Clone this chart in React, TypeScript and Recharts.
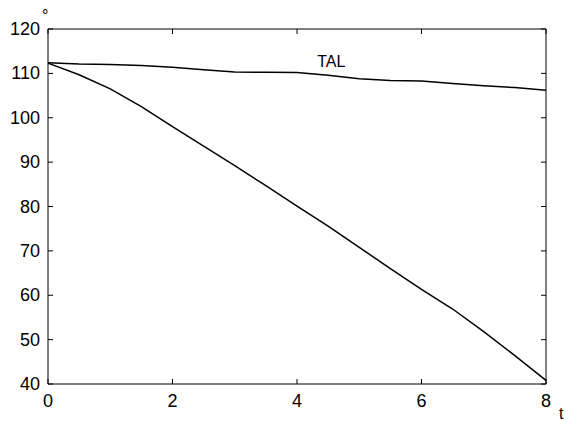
import { LineChart, Line, XAxis, YAxis, ReferenceDot, ReferenceArea } from "recharts";

const tValues = [0, 0.5, 1, 1.5, 2, 2.5, 3, 3.5, 4, 4.5, 5, 5.5, 6, 6.5, 7, 7.5, 8];
const talValues = [112.4, 112.1, 112.0, 111.8, 111.4, 110.8, 110.3, 110.25, 110.2, 109.6, 108.8, 108.4, 108.3, 107.7, 107.2, 106.8, 106.2];
const lowerValues = [112.3, 109.7, 106.5, 102.5, 98.0, 93.6, 89.2, 84.7, 80.1, 75.6, 70.8, 66.0, 61.3, 56.9, 51.8, 46.4, 40.8];
const xTicks = [0, 2, 4, 6, 8];
const yTicks = [40, 50, 60, 70, 80, 90, 100, 110, 120];

const data = tValues.map((t, i) => ({
  t,
  tal: talValues[i],
  lower: lowerValues[i],
}));

const W = 565;
const H = 421;
const margin = { top: 29, right: 19, bottom: 0, left: 8 };
const yAxisWidth = 40;
const xAxisHeight = 37;
const plotLeft = margin.left + yAxisWidth;
const plotRight = W - margin.right;
const plotTop = margin.top;
const plotBottom = H - margin.bottom - xAxisHeight;
const tickLen = 5;

const font = "'Liberation Sans', Arial, sans-serif";

// MATLAB style: ticks point inward, on all four sides of the box
const XTick = (props: any) => {
  const { x, y, payload } = props;
  return (
    <g>
      <line x1={x} x2={x} y1={plotBottom} y2={plotBottom - tickLen} stroke="#000" />
      <line x1={x} x2={x} y1={plotTop} y2={plotTop + tickLen} stroke="#000" />
      <text x={x} y={y} dy={14} textAnchor="middle" fill="#000" fontSize={18} fontFamily={font}>
        {payload.value}
      </text>
    </g>
  );
};

const YTick = (props: any) => {
  const { x, y, payload } = props;
  return (
    <g>
      <line x1={plotLeft} x2={plotLeft + tickLen} y1={y} y2={y} stroke="#000" />
      <line x1={plotRight} x2={plotRight - tickLen} y1={y} y2={y} stroke="#000" />
      <text x={x} y={y} dy={6} textAnchor="end" fill="#000" fontSize={18} fontFamily={font}>
        {payload.value}
      </text>
    </g>
  );
};

export default function App() {
  return (
    <div style={{ position: "absolute", left: 0, top: 0, background: "#fff" }}>
      <LineChart width={W} height={H} data={data} margin={margin}>
        <XAxis
          dataKey="t"
          type="number"
          domain={[0, 8]}
          ticks={xTicks}
          height={xAxisHeight}
          stroke="#000"
          axisLine={false}
          tickLine={false}
          tick={<XTick />}
          tickSize={0}
          tickMargin={9}
          label={{
            content: ({ viewBox }: any) => (
              <text x={viewBox.x + viewBox.width + 13} y={viewBox.y + 35} fill="#000" fontSize={16} fontFamily={font}>
                t
              </text>
            ),
          }}
        />
        <YAxis
          type="number"
          domain={[40, 120]}
          ticks={yTicks}
          width={yAxisWidth}
          stroke="#000"
          axisLine={false}
          tickLine={false}
          tick={<YTick />}
          tickSize={0}
          tickMargin={8}
          label={{
            content: ({ viewBox }: any) => (
              <text x={viewBox.x + viewBox.width - 6} y={viewBox.y - 8} fill="#000" fontSize={16} fontFamily={font}>
                °
              </text>
            ),
          }}
        />
        <ReferenceArea x1={0} x2={8} y1={40} y2={120} stroke="#000" strokeWidth={1} fill="none" fillOpacity={0} />
        <Line
          type="linear"
          dataKey="tal"
          stroke="#000"
          strokeWidth={1.5}
          dot={false}
          isAnimationActive={false}
        />
        <Line
          type="linear"
          dataKey="lower"
          stroke="#000"
          strokeWidth={1.5}
          dot={false}
          isAnimationActive={false}
        />
        <ReferenceDot
          x={4.55}
          y={111.4}
          r={0}
          stroke="none"
          fill="none"
          label={{
            content: ({ viewBox }: any) => (
              <text x={viewBox.x + viewBox.width / 2} y={viewBox.y + viewBox.height / 2} textAnchor="middle" fill="#000" fontSize={16} fontFamily={font}>
                TAL
              </text>
            ),
          }}
        />
      </LineChart>
    </div>
  );
}
